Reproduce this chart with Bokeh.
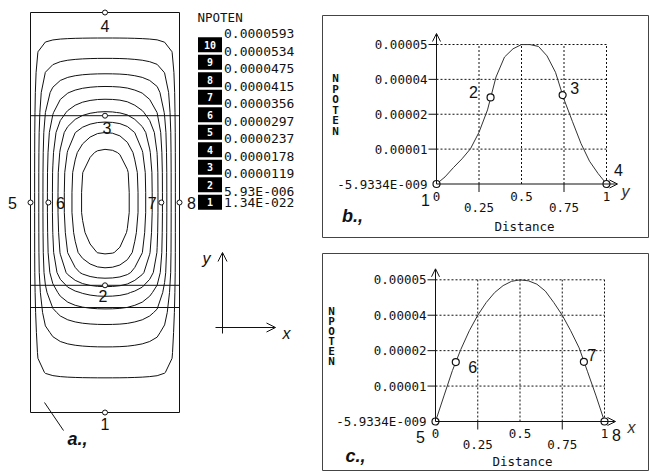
import numpy as np
from bokeh.plotting import figure
from bokeh.layouts import row, column
from bokeh.models import Range1d, Arrow, OpenHead
from bokeh.core.properties import value
from bokeh.embed import file_html
from bokeh.resources import INLINE

# ------------------------------------------------------------------ data
legend_numbers = ["10", "9", "8", "7", "6", "5", "4", "3", "2", "1"]
legend_labels = ["0.0000593", "0.0000534", "0.0000475", "0.0000415", "0.0000356",
                 "0.0000297", "0.0000237", "0.0000178", "0.0000119", "5.93E-006",
                 "1.34E-022"]
contour_levels = [5.93e-6, 1.19e-5, 1.78e-5, 2.37e-5, 2.97e-5,
                  3.56e-5, 4.15e-5, 4.75e-5, 5.34e-5]

# profile b: along the vertical centre line (y), NPOTEN in units of 1e-5
dist_b = [0.0, 0.05, 0.10, 0.15, 0.20, 0.25, 0.30, 0.35, 0.40, 0.45, 0.50,
          0.55, 0.60, 0.65, 0.70, 0.75, 0.80, 0.85, 0.90, 0.95, 1.0]
npoten_b = [0.0, 0.30, 0.70, 1.07, 1.50, 2.20, 3.15, 4.55, 5.40, 5.75, 5.93,
            5.93, 5.85, 5.45, 4.75, 3.60, 2.65, 1.72, 0.97, 0.45, 0.0]

# profile c: along the horizontal line (x), NPOTEN in units of 1e-5
dist_c = [0.0, 0.05, 0.10, 0.15, 0.20, 0.25, 0.30, 0.35, 0.40, 0.45, 0.50,
          0.55, 0.60, 0.65, 0.70, 0.75, 0.80, 0.85, 0.90, 0.95, 1.0]
npoten_c = [0.0, 1.07, 2.13, 3.02, 3.80, 4.45, 4.98, 5.40, 5.69, 5.87, 5.93,
            5.89, 5.75, 5.46, 4.98, 4.45, 3.80, 3.08, 2.08, 1.07, 0.0]

# probe points
pts_b_lab = ["1", "2", "3", "4"]
pts_b_x = [0.0, 0.318, 0.742, 1.0]
pts_b_v = [0.0, 3.68, 3.78, 0.0]
pts_c_lab = ["5", "6", "7", "8"]
pts_c_x = [0.0, 0.12, 0.878, 1.0]
pts_c_v = [0.0, 2.49, 2.50, 0.0]
line_c_y = 0.525          # height of the horizontal profile line in panel a
line_b_x = 0.5            # position of the vertical profile line in panel a
mesh_line_y = [0.2625]    # extra region boundary in panel a

# axis ticks
dist_ticks = [0.0, 0.25, 0.5, 0.75, 1.0]
dist_tick_labels = ["0", "0.25", "0.5", "0.75", "1"]
npoten_ticks = [-5.9334e-9, 1.48335e-5, 2.9667e-5, 4.45e-5, 5.9334e-5]
npoten_tick_labels = ["-5.9334E-009", "0.00001", "0.00002", "0.00004", "0.00005"]

# ------------------------------------------------------------------ style
SANS = value("Liberation Sans")
MONO = value("DejaVu Sans Mono")
INK = "#111111"
TOTAL_W, TOTAL_H = 649, 471
LW = 322                   # left figure width; right column is TOTAL_W - LW


def base_fig(width, height, xr, yr, **kw):
    return figure(width=width, height=height, x_range=xr, y_range=yr,
                  output_backend="svg", toolbar_location=None,
                  x_axis_type=None, y_axis_type=None, **kw)


# ------------------------------------------------------------------ panel a
A_X0, A_X1, A_Y0, A_Y1 = 30.0, 179.0, 412.0, 12.0


def ax(px):
    return (px - A_X0) / (A_X1 - A_X0)


def ay(py):
    return (A_Y0 - py) / (A_Y0 - A_Y1)


pa = base_fig(LW, TOTAL_H, Range1d(ax(0), ax(LW)), Range1d(ay(TOTAL_H), ay(0)),
              min_border=0, outline_line_color=None)

# potential field assembled from the two measured profiles
cx = np.array(npoten_c)
by = np.array(npoten_b)
peak = max(cx.max(), by.max())
q = 1.2
CX, BY = np.meshgrid(cx, by)
with np.errstate(divide="ignore", invalid="ignore"):
    Z = np.where((CX > 0) & (BY > 0),
                 (CX ** -q + BY ** -q - peak ** -q) ** (-1.0 / q), 0.0)

pa.contour(x=dist_c, y=dist_b, z=Z, levels=list(np.array(contour_levels) / 1e-5),
           line_color=INK, line_width=1)
pa.quad(left=[0], right=[1], bottom=[0], top=[1], fill_color=None,
        line_color=INK, line_width=1)
hl = mesh_line_y + pts_b_x[1:3]
pa.segment(x0=0, x1=1, y0=hl, y1=hl, line_color=INK, line_width=1)

a_x = [line_b_x] * 4 + pts_c_x
a_y = pts_b_x + [line_c_y] * 4
a_lab = pts_b_lab + pts_c_lab
a_dx = [0, -2, 2, 0, -18, 12, -9, 12]
a_dy = [11, 11, 12, 13, 0, 0, 0, 0]
pa.scatter(a_x, a_y, size=5, marker="circle", fill_color="white",
           line_color=INK, line_width=1)
pa.text(a_x, a_y, text=a_lab, x_offset=a_dx, y_offset=a_dy,
        text_align="center", text_baseline="middle", text_font=SANS,
        text_font_size="16px", text_color=INK)

pa.segment(x0=[ax(44)], y0=[ay(402)], x1=[ax(63)], y1=[ay(430)],
           line_color=INK, line_width=1)
pa.text([ax(77)], [ay(438)], text=["a.,"], text_align="center",
        text_baseline="middle", text_font=SANS, text_font_size="18px",
        text_font_style="bold italic", text_color=INK)

# legend
pa.text([ax(197)], [ay(17)], text=["NPOTEN"], text_align="left",
        text_baseline="middle", text_font=MONO, text_font_size="12.5px",
        text_color=INK)
box_y = [ay(44.3 + 17.5 * i) for i in range(len(legend_numbers))]
pa.rect(x=ax(209.5), y=box_y, width=24, height=15, width_units="screen",
        height_units="screen", fill_color="black", line_color=None)
pa.text(x=ax(209.5), y=box_y, text=legend_numbers, text_align="center",
        text_baseline="middle", text_font=MONO, text_font_size="10px",
        text_font_style="bold", text_color="white")
row_y = [ay(33.3 + 17.5 * i) for i in range(len(legend_labels) - 1)] + [ay(201.7)]
pa.text(x=ax(223.5), y=row_y, text=legend_labels, text_align="left",
        text_baseline="middle", text_font=MONO, text_font_size="13px",
        text_color=INK)

# coordinate cross
pa.add_layout(Arrow(end=OpenHead(size=9, line_color=INK, line_width=1),
                    x_start=ax(222), y_start=ay(333), x_end=ax(222), y_end=ay(252),
                    line_color=INK, line_width=1))
pa.add_layout(Arrow(end=OpenHead(size=9, line_color=INK, line_width=1),
                    x_start=ax(215), y_start=ay(327), x_end=ax(275), y_end=ay(327),
                    line_color=INK, line_width=1))
pa.text([ax(206), ax(286)], [ay(258), ay(333)], text=["y", "x"],
        text_align="center", text_baseline="middle", text_font=SANS,
        text_font_size="16px", text_font_style="italic", text_color=INK)


# ------------------------------------------------------------------ panels b, c
def make_profile(height, top_border, bottom_border, frame, xmap, ymap,
                 dist, vals, lab, px_, pv, pdx, pdy, extra):
    L, T, R, B = frame
    x0p, x1p = xmap
    y0p, y1p = ymap
    vmin, vmax = npoten_ticks[0], npoten_ticks[-1]

    def dx(px):
        return (px - x0p) / (x1p - x0p)

    def dy(py):
        return vmin + (y0p - py) / (y0p - y1p) * (vmax - vmin)

    p = base_fig(TOTAL_W - LW, height, Range1d(dx(L), dx(R)), Range1d(dy(B), dy(T)),
                 min_border_left=0, min_border_right=0,
                 min_border_top=top_border, min_border_bottom=bottom_border,
                 outline_line_color="#444444", outline_line_width=1)

    gx = dist_ticks[1:]
    gy = npoten_ticks[1:]
    p.segment(x0=gx, x1=gx, y0=vmin, y1=vmax, line_dash="2 2",
              line_color=INK, line_width=1)
    p.segment(x0=0, x1=1, y0=gy, y1=gy, line_dash="2 2",
              line_color=INK, line_width=1)
    p.segment(x0=dx(x0p - 8), x1=0, y0=gy, y1=gy, line_color=INK, line_width=1)
    stag = [0, 1, 0, 1, 0]
    tx = [t for t, s in zip(dist_ticks, stag) if s]
    p.segment(x0=tx, x1=tx, y0=vmin, y1=dy(y0p + 8), line_color=INK, line_width=1)

    p.add_layout(Arrow(end=OpenHead(size=8, line_color=INK, line_width=1),
                       x_start=0, y_start=vmin, x_end=0, y_end=dy(y1p - 11),
                       line_color=INK, line_width=1))
    p.add_layout(Arrow(end=OpenHead(size=8, line_color=INK, line_width=1),
                       x_start=0, y_start=vmin, x_end=dx(x1p + 11), y_end=vmin,
                       line_color=INK, line_width=1))

    p.text(x=0, y=npoten_ticks, text=npoten_tick_labels, x_offset=-9,
           text_align="right", text_baseline="middle", text_font=MONO,
           text_font_size="12.5px", text_color=INK)
    p.text(x=dist_ticks, y=vmin, text=dist_tick_labels,
           y_offset=[12 if s == 0 else 23 for s in stag],
           text_align="center", text_baseline="middle", text_font=MONO,
           text_font_size="12.5px", text_color=INK)

    v = list(np.array(vals) * 1e-5)
    p.line(dist, v, line_color="#333333", line_width=1)
    pvv = list(np.array(pv) * 1e-5)
    p.scatter(px_, pvv, size=7, marker="circle", fill_color="white",
              line_color=INK, line_width=1.2)
    p.text(px_, pvv, text=lab, x_offset=pdx, y_offset=pdy, text_align="center",
           text_baseline="middle", text_font=SANS, text_font_size="16px",
           text_color=INK)

    nx, ny0, nstep = extra["npoten"]
    p.text(x=dx(nx), y=[dy(ny0 + nstep * i) for i in range(6)], text=list("NPOTEN"),
           text_align="center", text_baseline="middle", text_font=MONO,
           text_font_size="11px", text_font_style="bold", text_color=INK)
    p.text([dx(extra["dist"][0])], [dy(extra["dist"][1])], text=["Distance"],
           text_align="center", text_baseline="middle", text_font=MONO,
           text_font_size="12.5px", text_color=INK)
    p.text([dx(extra["tag"][0])], [dy(extra["tag"][1])], text=[extra["tag"][2]],
           text_align="center", text_baseline="middle", text_font=SANS,
           text_font_size="18px", text_font_style="bold italic", text_color=INK)
    p.text([dx(extra["axis"][0])], [dy(extra["axis"][1])], text=[extra["axis"][2]],
           text_align="center", text_baseline="middle", text_font=SANS,
           text_font_size="16px", text_font_style="italic", text_color="#333333")
    return p


pb = make_profile(245, 15, 8, (322, 15, 649, 237), (436, 606), (183.5, 44),
                  dist_b, npoten_b, pts_b_lab, pts_b_x, pts_b_v,
                  [-11, -17, 12, 12], [16, -5, -7, -14],
                  {"npoten": (335, 78, 10.5), "dist": (524, 226),
                   "tag": (352, 215, "b.,"), "axis": (625, 191, "y")})
pc = make_profile(TOTAL_H - 245, 8, 0, (322, 253, 649, 471), (435, 604), (421, 279.3),
                  dist_c, npoten_c, pts_c_lab, pts_c_x, pts_c_v,
                  [-15, 17, 8, 12], [16, 5, -7, 14],
                  {"npoten": (331, 311, 10.0), "dist": (522, 461),
                   "tag": (355, 455, "c.,"), "axis": (631, 427, "x")})

layout = row(pa, column(pb, pc, spacing=0), spacing=0)
open("out.html", "w").write(file_html(layout, INLINE))
